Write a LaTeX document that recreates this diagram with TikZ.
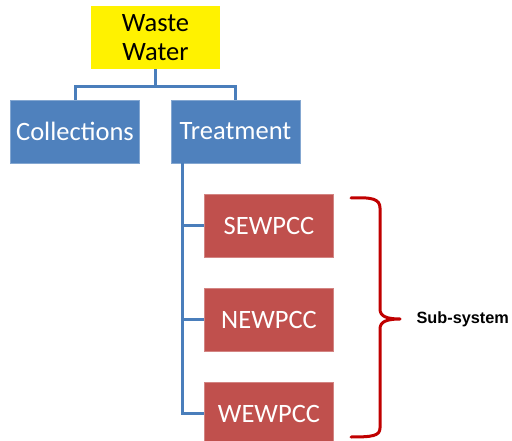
\documentclass[tikz,border=0pt]{standalone}
\usepackage{fontspec}
\setmainfont{Carlito}
\newfontfamily\arialfont{Liberation Sans}
\definecolor{boxblue}{HTML}{4F81BD}
\definecolor{boxred}{HTML}{C0504D}
\definecolor{linkblue}{HTML}{4A7EBB}
\definecolor{bracered}{HTML}{C00000}
\tikzset{
  box/.style={minimum width=129pt, minimum height=63pt, inner sep=0pt, font=\fontsize{26.5}{30}\selectfont, align=center},
  bluebox/.style={box, fill=boxblue, draw=boxblue!70!white, line width=0.6pt, text=white},
  redbox/.style={box, fill=boxred, draw=boxred!70!white, line width=0.6pt, text=white},
  yellowbox/.style={box, fill=yellow, text=black},
  link/.style={draw=linkblue, line width=3pt},
  bracestyle/.style={draw=bracered, line width=3pt, line cap=round, line join=round}
}
\begin{document}
\begin{tikzpicture}[x=1pt,y=-1pt]
\useasboundingbox (0,0) rectangle (512,441);
\node[yellowbox] (ww) at (155.5,37.5) {Waste\\[-1pt]Water};
\node[bluebox] (col) at (75,131.5) {Collections};
\node[bluebox] (tre) at (235.5,131.5) {Treatment};
\node[redbox] (sew) at (269,225.5) {SEWPCC};
\node[redbox] (new) at (269,319.5) {NEWPCC};
\node[redbox] (wew) at (269,413.5) {WEWPCC};
\coordinate (bus) at (182.5,225.5);
\draw[link] (ww.south) -- ++(0,17) coordinate (mid);
\draw[link] (col.north) -- (col.north |- mid) -- (tre.north |- mid) -- (tre.north);
\draw[link] (tre.south -| bus) -- (wew.west -| bus) -- (wew.west);
\draw[link] (sew.west -| bus) -- (sew.west);
\draw[link] (new.west -| bus) -- (new.west);
\draw[bracestyle] (351,198) .. controls (372,197) and (380,199) .. (380,208)
  -- (380,309) .. controls (380,316) and (386,319) .. (400,319)
  .. controls (386,319) and (380,322) .. (380,329)
  -- (380,428) .. controls (380,436) and (372,437) .. (351,437);
\node[anchor=west, font=\arialfont\bfseries\fontsize{16.3}{19}\selectfont] (sub) at (413,319) {Sub-system};
\end{tikzpicture}
\end{document}
